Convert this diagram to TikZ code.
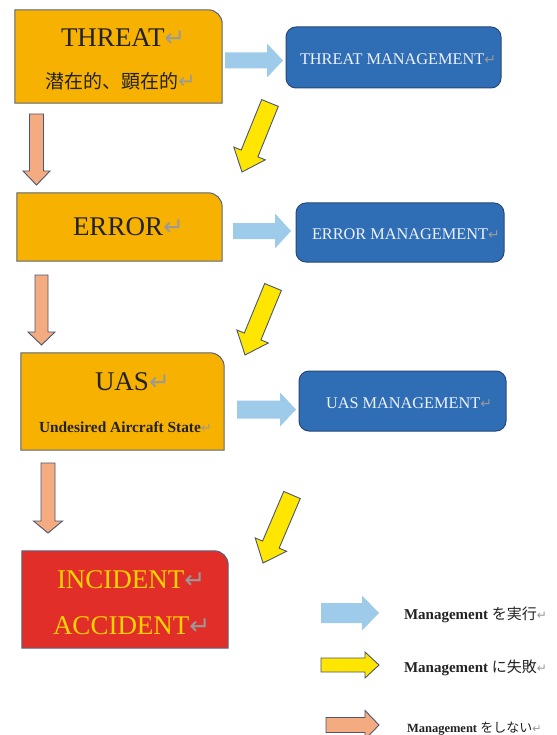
\documentclass[tikz,border=0pt]{standalone}
\usepackage{fontspec}
\setmainfont{Liberation Serif}
\newfontfamily\jpfont{Noto Sans CJK JP}
\newfontfamily\symfont{DejaVu Sans}
\usetikzlibrary{calc}
\definecolor{boxorange}{HTML}{F7B100}
\definecolor{boxedge}{HTML}{56657F}
\definecolor{mgmtblue}{HTML}{2F6DB5}
\definecolor{mgmtedge}{HTML}{27497A}
\definecolor{arrowblue}{HTML}{9DCBE9}
\definecolor{arrowyellow}{HTML}{FFE600}
\definecolor{arrowsalmon}{HTML}{F4AB80}
\definecolor{arrowedge}{HTML}{4A5672}
\definecolor{alertred}{HTML}{E12E28}
\definecolor{alerttext}{HTML}{FFD500}
\definecolor{darktext}{HTML}{222222}
\definecolor{lighttext}{HTML}{EEF2FA}
\definecolor{markgray}{HTML}{9A9A9A}
\newcommand\fsz[1]{\fontsize{#1}{#1}\selectfont}
\newcommand\pmark[1]{{\color{markgray}\fontsize{#1}{#1}\symfont ↵}}
% box with only the top-right corner rounded, drawn on a named node
\newcommand\snipbox[2]{%
  \filldraw[#2] (#1.south west) -- (#1.north west) -- ($(#1.north east)+(-14,0)$)
    .. controls +(7.73,0) and +(0,-7.73) .. ($(#1.north east)+(0,14)$)
    -- (#1.south east) -- cycle;}
% block arrow from named coordinate #2 to named coordinate #3
\newcommand\blockarrow[6]{%
  \path let \p1=($(#3)-(#2)$), \n1={atan2(\y1,\x1)}, \n2={veclen(\x1,\y1)} in
    [#1, shift={(#2)}, rotate=\n1]
    (0,{-#4/2}) -- ({\n2-#6},{-#4/2}) -- ({\n2-#6},{-#5/2}) -- ({\n2},0)
    -- ({\n2-#6},{#5/2}) -- ({\n2-#6},{#4/2}) -- (0,{#4/2}) -- cycle;}
\begin{document}
\begin{tikzpicture}[x=1pt,y=-1pt,
  holder/.style={draw=none,inner sep=0pt,rectangle},
  obox/.style={fill=boxorange,draw=boxedge,line width=1pt},
  rbox/.style={fill=alertred,draw=boxedge,line width=1pt},
  mbox/.style={holder,fill=mgmtblue,draw=mgmtedge,line width=1pt,rounded corners=10pt},
  txt/.style={inner sep=0pt,outer sep=0pt,anchor=base west},
  darkt/.style={txt,text=darktext},
  lightt/.style={txt,text=lighttext},
  alertt/.style={txt,text=alerttext},
  doarrow/.style={fill=arrowblue,draw=none},
  failarrow/.style={fill=arrowyellow,draw=arrowedge,line width=0.9pt,line join=miter},
  skiparrow/.style={fill=arrowsalmon,draw=arrowedge,line width=0.9pt,line join=miter}]
\useasboundingbox (0,0) rectangle (556,735);
\fill[white] (0,0) rectangle (556,735);

% ---- left column boxes
\node[holder,minimum width=207pt,minimum height=93pt] (threat) at (118.5,56.5) {};
\snipbox{threat}{obox}
\node[holder,minimum width=205pt,minimum height=68pt] (error) at (119.5,227) {};
\snipbox{error}{obox}
\node[holder,minimum width=203pt,minimum height=97pt] (uas) at (122.5,401.5) {};
\snipbox{uas}{obox}
\node[holder,minimum width=206pt,minimum height=97pt] (incident) at (125,599.5) {};
\snipbox{incident}{rbox}

% ---- management boxes
\node[mbox,minimum width=215pt,minimum height=61pt] (tm) at (393.5,57.5) {};
\node[mbox,minimum width=208pt,minimum height=59pt] (em) at (400,232.5) {};
\node[mbox,minimum width=207pt,minimum height=60pt] (um) at (402.5,401) {};

% ---- texts
\node[darkt] (threatT) at (61,47) {\fsz{27}THREAT\pmark{25}};
\node[darkt] (threatJ) at (45,89) {\jpfont\fsz{19}潜在的、顕在的\pmark{21}};
\node[darkt] (errorT) at (73,235) {\fsz{27}ERROR\pmark{25}};
\node[darkt] (uasT) at (95,390) {\fsz{27}UAS\pmark{25}};
\node[darkt] (uasS) at (39,432) {\fsz{15.4}\textbf{Undesired Aircraft State}\pmark{13}};
\node[alertt] (incT) at (57,588) {\fsz{27}INCIDENT\pmark{25}};
\node[alertt] (accT) at (53,634) {\fsz{27}ACCIDENT\pmark{25}};
\node[lightt] (tmT) at (300,65) {\fsz{16.3}THREAT MANAGEMENT\pmark{14}};
\node[lightt] (emT) at (312,239) {\fsz{16.3}ERROR MANAGEMENT\pmark{14}};
\node[lightt] (umT) at (326,408) {\fsz{16.3}UAS MANAGEMENT\pmark{14}};

% ---- arrow end points
\coordinate (b1s) at (225,60.5);  \coordinate (b1e) at (283,60.5);
\coordinate (b2s) at (233,231);   \coordinate (b2e) at (291,231);
\coordinate (b3s) at (237,409.5); \coordinate (b3e) at (296,409.5);
\coordinate (y1s) at (270,103);   \coordinate (y1e) at (242,172);
\coordinate (y2s) at (273,287);   \coordinate (y2e) at (245,355);
\coordinate (y3s) at (292,495);   \coordinate (y3e) at (263,563);
\coordinate (o1s) at (36.5,114);  \coordinate (o1e) at (36.5,185);
\coordinate (o2s) at (41.5,275);  \coordinate (o2e) at (41.5,345);
\coordinate (o3s) at (48,463);    \coordinate (o3e) at (48,533);
\coordinate (lbs) at (321,613);   \coordinate (lbe) at (379,613);
\coordinate (lys) at (321,665);   \coordinate (lye) at (379,665);
\coordinate (los) at (326,725);   \coordinate (loe) at (379,725);

% ---- arrows
\blockarrow{doarrow}{b1s}{b1e}{16}{34}{16}
\blockarrow{doarrow}{b2s}{b2e}{16}{35}{16}
\blockarrow{doarrow}{b3s}{b3e}{18}{34}{16}
\blockarrow{failarrow}{y1s}{y1e}{18}{34}{20}
\blockarrow{failarrow}{y2s}{y2e}{18}{34}{20}
\blockarrow{failarrow}{y3s}{y3e}{18}{34}{20}
\blockarrow{skiparrow}{o1s}{o1e}{14}{27}{14}
\blockarrow{skiparrow}{o2s}{o2e}{13}{27}{13}
\blockarrow{skiparrow}{o3s}{o3e}{14}{29}{12}

% ---- legend
\blockarrow{doarrow}{lbs}{lbe}{20}{35}{17}
\blockarrow{failarrow}{lys}{lye}{14}{26}{14}
\blockarrow{skiparrow}{los}{loe}{15}{29}{14}
\node[darkt] (leg1) at (404,619) {\fsz{15}\textbf{Management} {\jpfont\fsz{15}を実行}\pmark{12}};
\node[darkt] (leg2) at (404,672) {\fsz{15}\textbf{Management} {\jpfont\fsz{15}に失敗}\pmark{12}};
\node[darkt] (leg3) at (407,732) {\fsz{12.5}\textbf{Management} {\jpfont\fsz{13}をしない}\pmark{11}};
\end{tikzpicture}
\end{document}
